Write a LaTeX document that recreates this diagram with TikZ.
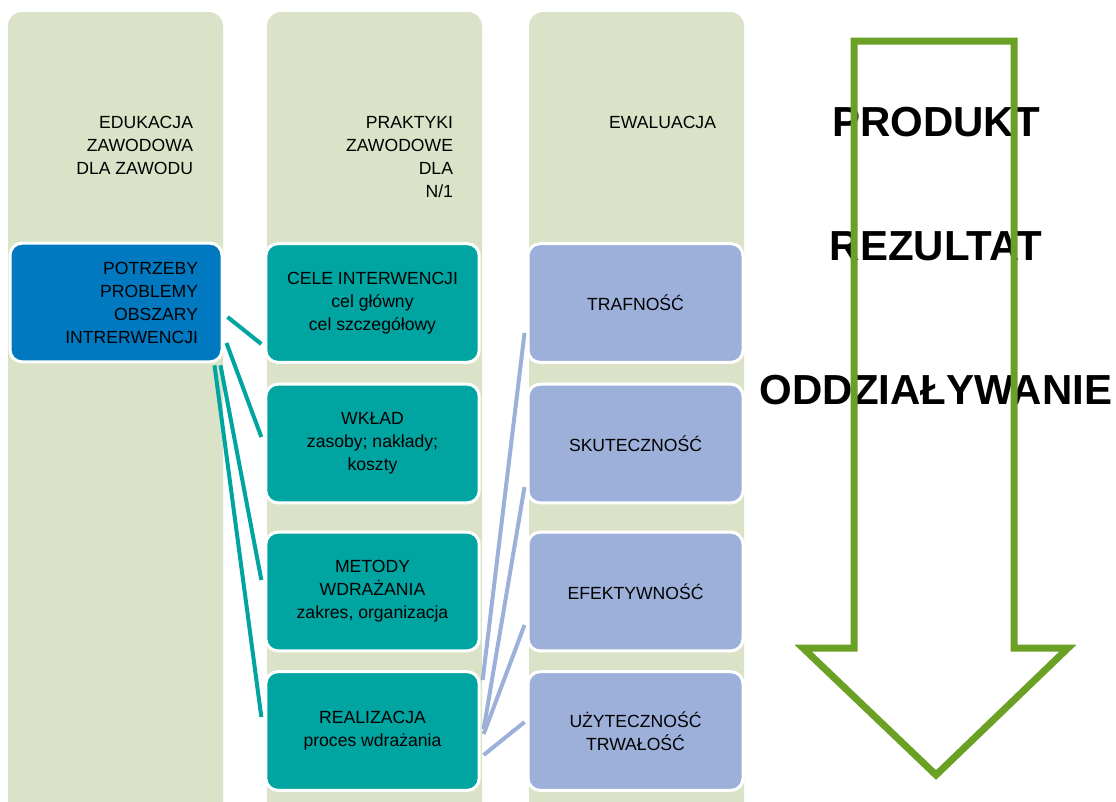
\documentclass[tikz,border=0pt]{standalone}
\usepackage{fontspec}
\setmainfont{Liberation Sans}
\usepackage{xcolor}
\usetikzlibrary{calc}
\definecolor{colbg}{HTML}{DAE3C8}
\definecolor{blue1}{HTML}{0079C1}
\definecolor{teal1}{HTML}{00A4A1}
\definecolor{lila}{HTML}{9DB0DA}
\definecolor{green1}{HTML}{6AA024}

\begin{document}
\begin{tikzpicture}[x=0.75pt, y=-0.75pt,
    col/.style={fill=colbg, rounded corners=10.5pt, minimum width=161.25pt, minimum height=613.5pt, inner sep=0pt},
    hdr/.style={anchor=north east, align=right, inner sep=0pt, font=\fontsize{13.2}{17.25}\selectfont},
    box/.style={draw=white, line width=2.25pt, rounded corners=9pt, minimum height=89pt, align=center, font=\fontsize{13.2}{17.25}\selectfont},
    tealbox/.style={box, fill=teal1, minimum width=160pt},
    lilabox/.style={box, fill=lila, minimum width=161.25pt},
    big/.style={inner sep=0pt, font=\fontsize{31.5}{36}\selectfont\bfseries},
    tline/.style={teal1, line width=3pt},
    lline/.style={lila, line width=3pt}]
    \fill[white] (0,0) rectangle (1116,801);
    \useasboundingbox (0,0) rectangle (1116,801);

    \node[col] (c1) at (115.5,421) {};
    \node[col] (c2) at (374.5,421) {};
    \node[col] (c3) at (636.5,421) {};
    \node[hdr] (h1) at ($(c1.north east)+(-30,104)$) {EDUKACJA\\ZAWODOWA\\DLA ZAWODU};
    \node[hdr] (h2) at ($(c2.north east)+(-29,104)$) {PRAKTYKI\\ZAWODOWE\\DLA\\N/1};
    \node[hdr] (h3) at ($(c3.north east)+(-28,104)$) {EWALUACJA};

    \node[box, fill=blue1, align=right, text width=123pt, inner xsep=18pt] (pot) at (116,302.5) {POTRZEBY\\PROBLEMY\\OBSZARY\\INTRERWENCJI};

    \node[tealbox] (cele) at (372.5,303) {CELE INTERWENCJI\\cel główny\\cel szczegółowy};
    \node[tealbox] (wklad) at (372.5,443.5) {WKŁAD\\zasoby; nakłady;\\koszty};
    \node[tealbox] (met) at (372.5,591.5) {METODY\\WDRAŻANIA\\zakres, organizacja};
    \node[tealbox] (real) at (372.5,731) {REALIZACJA\\proces wdrażania};

    \node[lilabox] (traf) at (635.5,303) {TRAFNOŚĆ};
    \node[lilabox] (skut) at (635.5,443.5) {SKUTECZNOŚĆ};
    \node[lilabox] (efek) at (635.5,591.5) {EFEKTYWNOŚĆ};
    \node[lilabox] (uzyt) at (635.5,731) {UŻYTECZNOŚĆ\\TRWAŁOŚĆ};

    \draw[tline] ($(pot.east)+(4,14.5)$) -- ($(cele.west)+(-3,41)$);
    \draw[tline] ($(pot.east)+(3,40.5)$) -- ($(wklad.west)+(-3,-6.5)$);
    \draw[tline] ($(pot.south east)+(-3,2)$) -- ($(met.west)+(-3,-11.5)$);
    \draw[tline] ($(pot.south east)+(-9,2)$) -- ($(real.west)+(-3,-14)$);

    \draw[lline] ($(real.east)+(2,-51)$) -- ($(traf.west)+(-2,30)$);
    \draw[lline] ($(real.east)+(3,-2)$) -- ($(skut.west)+(-2,43.5)$);
    \draw[lline] ($(real.east)+(3,3)$) -- ($(efek.west)+(-2,33.5)$);
    \draw[lline] ($(real.east)+(3,24)$) -- ($(uzyt.west)+(-2,-9)$);

    \node[big] (prod) at (936,122) {PRODUKT};
    \node[big] (rez) at (936,246) {REZULTAT};
    \node[big] (odd) at (936,390) {ODDZIAŁYWANIE};
    \draw[green1, line width=5.25pt, miter limit=10] (854,41) -- (1014,41) -- (1014,648) -- (1068,648) -- (936,775) -- (803,648) -- (854,648) -- cycle;
\end{tikzpicture}
\end{document}
